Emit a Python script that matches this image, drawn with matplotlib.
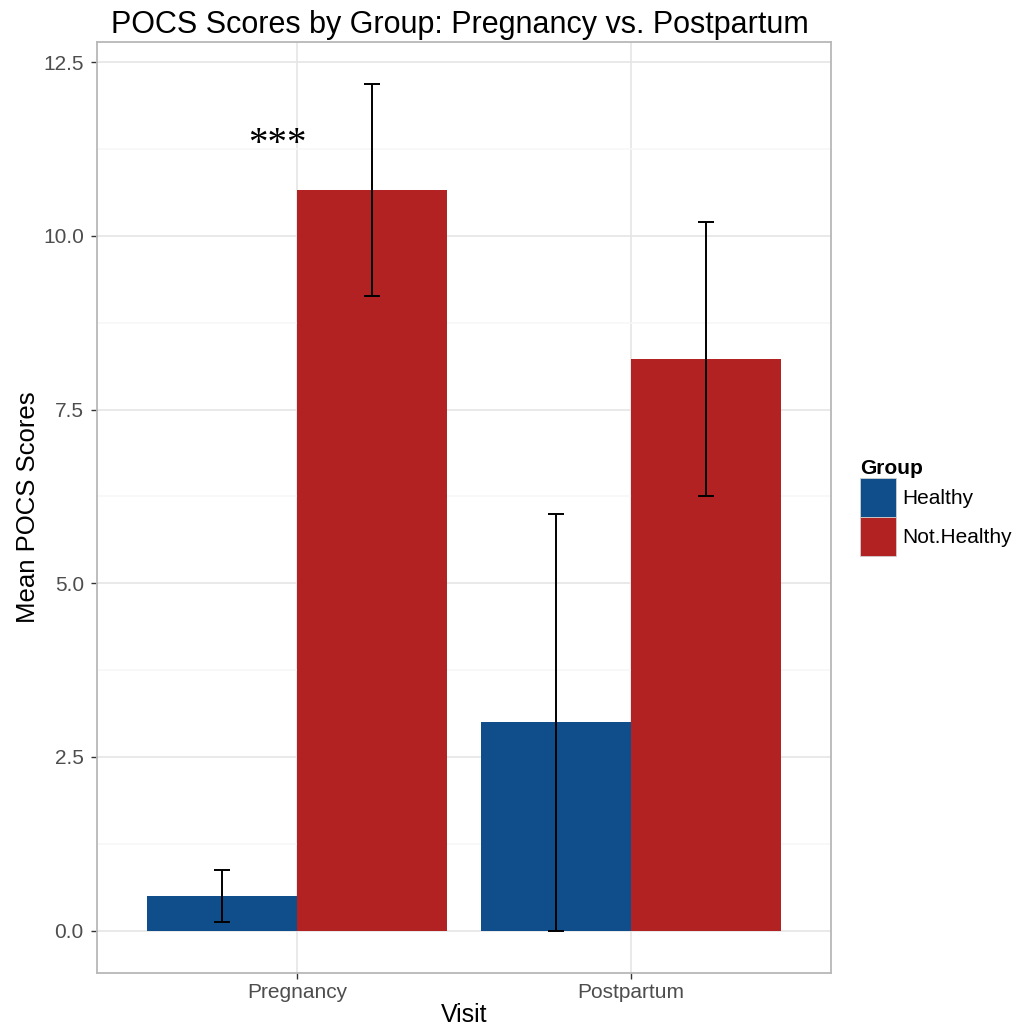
import numpy as np
import matplotlib.pyplot as plt
from matplotlib.patches import Patch
from matplotlib.ticker import MultipleLocator, FormatStrFormatter

plt.rcParams['font.family'] = ['Liberation Sans', 'DejaVu Sans']

visits = ["Pregnancy", "Postpartum"]
groups = ["Healthy", "Not.Healthy"]
means = {"Healthy": [0.50, 3.00], "Not.Healthy": [10.66, 8.23]}
errs = {"Healthy": [0.375, 3.00], "Not.Healthy": [1.52, 1.97]}
colors = {"Healthy": "#104E8B", "Not.Healthy": "#B22222"}
sig_label = "***"
sig_x = 0.94
sig_y = 11.18

fig = plt.figure(figsize=(10.19, 10.35), dpi=100)
ax = fig.add_axes([97 / 1019, 1 - 973 / 1035, 734 / 1019, 931 / 1035])

x = np.arange(1, len(visits) + 1)
w = 0.45
for i, g in enumerate(groups):
    xs = x + (i - 0.5) * w
    ax.bar(xs, means[g], width=w, color=colors[g], zorder=3)
    ax.errorbar(xs, means[g], yerr=errs[g], fmt='none', ecolor='black',
                elinewidth=1.4, capsize=5.8, capthick=1.4, zorder=4)

ax.text(sig_x, sig_y, sig_label, family='Liberation Serif', fontsize=28,
        ha='center', va='baseline', zorder=5)

# ggplot-like expansion of the scales
hi = max(max(np.array(means[g]) + np.array(errs[g])) for g in groups)
ax.set_ylim(-0.05 * hi, hi * 1.05)
ax.set_xlim(0.4, len(visits) + 0.6)

ax.set_xticks(x)
ax.set_xticklabels(visits)
ax.yaxis.set_major_locator(MultipleLocator(2.5))
ax.yaxis.set_minor_locator(MultipleLocator(1.25))
ax.yaxis.set_major_formatter(FormatStrFormatter('%.1f'))
ax.tick_params(axis='both', which='major', labelsize=15, labelcolor='#4D4D4D',
               color='#333333', length=4.5, width=1)
ax.tick_params(axis='y', pad=5)
ax.tick_params(axis='x', pad=2.5)
ax.tick_params(axis='y', which='minor', length=0)

ax.grid(True, which='major', color='#E5E5E5', lw=1.2, zorder=0)
ax.grid(True, which='minor', axis='y', color='#F7F7F7', lw=1.2, zorder=0)
ax.set_axisbelow(True)
for s in ax.spines.values():
    s.set_color('#B8B8B8')
    s.set_linewidth(1.3)

ax.set_xlabel("Visit", fontsize=18, labelpad=1)
ax.set_ylabel("Mean POCS Scores", fontsize=18.5, labelpad=2)
fig.text(460 / 1019, 1 - 33 / 1035, "POCS Scores by Group: Pregnancy vs. Postpartum",
         fontsize=22, ha='center', va='baseline')

handles = [Patch(facecolor=colors[g], edgecolor='#D0D0D0', lw=0.6) for g in groups]
leg = fig.legend(handles, groups, title="Group", loc='upper left',
                 bbox_to_anchor=(860 / 1019, 1 - 459 / 1035), frameon=False,
                 fontsize=15, title_fontproperties={'weight': 'bold', 'size': 15},
                 handlelength=1.75, handleheight=2.5, labelspacing=0.0,
                 handletextpad=0.3, borderpad=0, borderaxespad=0, alignment='left')

fig.savefig("out.png", dpi=100)
